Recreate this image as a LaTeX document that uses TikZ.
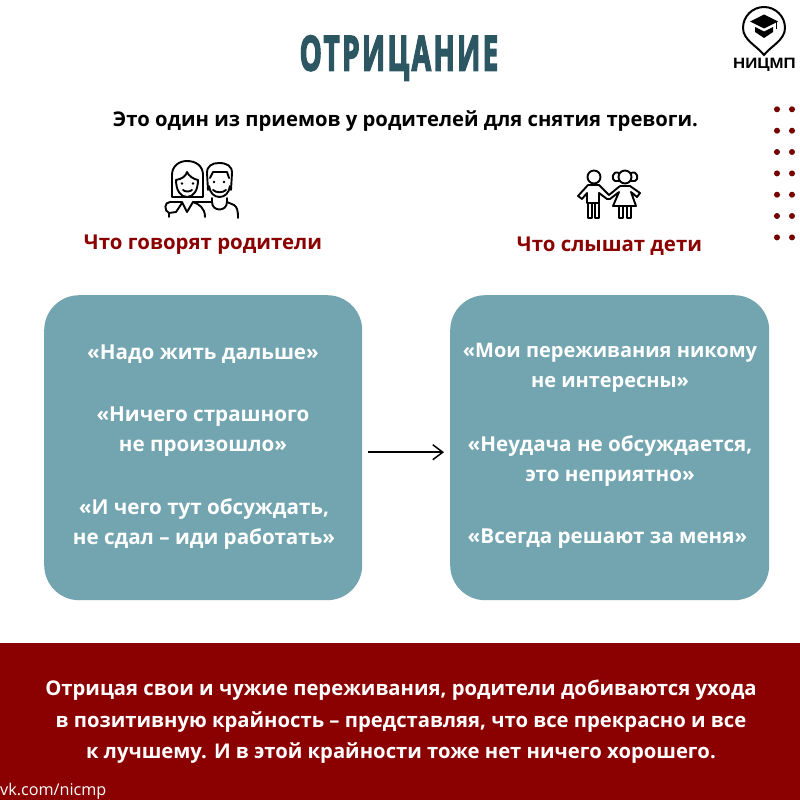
\documentclass[tikz,border=0pt]{standalone}
\usepackage{fontspec}
\setmainfont{Open Sans}
\newfontfamily\logofont{Liberation Sans}
\newfontfamily\titlefont[FakeBold=4,LetterSpace=9]{Open Sans}
\usetikzlibrary{arrows.meta}
\definecolor{teal1}{HTML}{72A5B0}
\definecolor{wine}{HTML}{8B0000}
\definecolor{titlec}{HTML}{2C5662}
\tikzset{
  x=1pt,y=-1pt,
  card/.style={fill=teal1,rounded corners=35pt},
  quote/.style={font=\bfseries\fontsize{20.6}{30}\selectfont,text=white,align=center,anchor=center},
  quotetight/.style={font=\bfseries\fontsize{20}{30}\selectfont,text=white,align=center,anchor=center},
  head/.style={font=\bfseries\fontsize{20.4}{24}\selectfont,text=wine,anchor=center},
  ico/.style={line width=1.9pt,black,line cap=round,line join=round},
  dot/.style={fill=wine!85!black,draw=none,circle,minimum size=6pt,inner sep=0pt}
}
\begin{document}
\begin{tikzpicture}
\useasboundingbox (0,0) rectangle (800,800);
\fill[white] (0,0) rectangle (800,800);
% title
\node[anchor=center,text=titlec] (title) at (399,58) {\fontsize{48}{48}\selectfont\titlefont\bfseries\scalebox{0.58}[1]{ОТРИЦАНИЕ}};
\node[anchor=center,text=black] (sub) at (405.5,121) {\bfseries\fontsize{20.25}{24}\selectfont Это один из приемов у родителей для снятия тревоги.};
% logo
\draw[line width=2pt,black] (764,55) .. controls (757,46) and (743,40) .. (743,28) arc[start angle=180,end angle=360,radius=21] .. controls (785,40) and (771,46) .. (764,55) -- cycle;
\fill[black] (764,14.5) -- (778,21.5) -- (764,28.5) -- (750,21.5) -- cycle;
\fill[black] (755,27) -- (764,31.5) -- (773,27) -- (773,32) -- (764,38) -- (755,32) -- cycle;
\draw[line width=0.8pt,black] (776,22) -- (776,29);
\node[anchor=center,text=black] (logotext) at (764.5,65) {\logofont\bfseries\fontsize{15}{15}\selectfont\scalebox{1.12}[1]{НИЦМП}};
% dots
\foreach \yy in {109.3,130.7,152,173.4,194.7,216,237.4}{
  \node[dot] at (777,\yy) {};
  \node[dot] at (792,\yy) {};
}
% parents icon
\begin{scope}[ico]
 % woman hair
 \draw (172,197) -- (172,175) .. controls (172,166) and (179,161) .. (187,161) .. controls (196,161) and (203,166) .. (203,175) -- (203,197) -- (172,197);
 % woman face
 \draw (176,180) .. controls (182,179) and (186,176) .. (187,172) .. controls (189,176) and (193,179) .. (198,180);
 \draw (176,180) .. controls (176,191) and (181,197) .. (187,197) .. controls (193,197) and (198,191) .. (198,180);
 % man hair and face
 \draw (208,190) -- (207,173) .. controls (207,166) and (212,163) .. (219,163) .. controls (227,163) and (232,166) .. (232,173) -- (231,190);
 \draw (210,178) -- (213,172) -- (227,172) -- (229,178);
 \draw (209,186) .. controls (210,193) and (214,197) .. (219.5,197) .. controls (225,197) and (229,193) .. (230,186);
 % collar and shoulders
 \draw (182,202) -- (187,212) -- (193,202);
 \draw (193,202) -- (212,202);
 \draw (193,202) .. controls (199,204) and (205,208) .. (205,217);
 \draw (182,202) -- (170,202) .. controls (164,202) and (164,211) .. (169,213) -- (176,212) -- (182,203);
 \draw (169,213) -- (169,217);
 \draw (212,198) -- (212,202) .. controls (212,212) and (227,212) .. (227,202) -- (227,198);
 \draw (227,202) -- (234,205) .. controls (237,207) and (238,210) .. (238,218);
 \fill (182,183.5) circle (1.3) (193,183.5) circle (1.3) (214,182) circle (1.3) (224,182) circle (1.3);
 \draw (183,190) .. controls (185,192) and (190,192) .. (192,190);
 \draw (213,190) .. controls (216,193) and (223,193) .. (226,190);
\end{scope}
% children icon
\begin{scope}[ico]
 \draw (594,177) circle (6.5);
 \draw (588,185) -- (599,185) -- (609,195) (588,185) -- (578,196) -- (582,199) -- (587,193) -- (587,203) -- (599,203) -- (599,193) -- (607,199);
 \draw (588,203) -- (588,218) -- (592,218) -- (592,203) (595,203) -- (595,218) -- (599,218) -- (599,203);
 \draw (625,177) circle (6.5);
 \draw (619,173) .. controls (612,170) and (611,180) .. (615,181) -- (619,181);
 \draw (631,173) .. controls (638,170) and (639,180) .. (635,181) -- (631,181);
 \draw (620,186) -- (630,186) -- (640,193) -- (637,197) -- (631,192) -- (636,206) -- (613,206) -- (619,192) -- (610,199) -- (607,199) (620,186) -- (609,195);
 \draw (619,206) -- (619,218) -- (623,218) -- (623,206) (627,206) -- (627,218) -- (631,218) -- (631,206);
\end{scope}
% headings
\node[head] (hl) at (203,244.5) {Что говорят родители};
\node[head] (hr) at (609.5,246.5) {Что слышат дети};
% cards
\node[card,minimum width=318pt,minimum height=305pt,inner sep=0pt,anchor=north west] (left) at (44,295) {};
\node[card,minimum width=319pt,minimum height=305pt,inner sep=0pt,anchor=north west] (right) at (450,295) {};
\node[quote] (l1) at (203,354) {«Надо жить дальше»};
\node[quote] (l2) at (203,432) {«Ничего страшного\\не произошло»};
\node[quote] (l3) at (204,524) {«И чего тут обсуждать,\\не сдал – иди работать»};
\node[quotetight] (r1) at (610,368) {«Мои переживания никому\\не интересны»};
\node[quote] (r2) at (610,461) {«Неудача не обсуждается,\\это неприятно»};
\node[quote] (r3) at (607.5,539) {«Всегда решают за меня»};
% arrow
\draw[-{Straight Barb[length=10pt,width=15pt]},line width=1.5pt,black] ([xshift=6pt,yshift=-4.5pt]left.east) -- ([xshift=-6pt,yshift=-4.5pt]right.west);
% banner
\fill[wine] (0,643) rectangle (800,800);
\node[anchor=center,text=white,align=center,font=\bfseries\fontsize{20.25}{31.5}\selectfont] (foot) at (401,722) {Отрицая свои и чужие переживания, родители добиваются ухода\\в позитивную крайность – представляя, что все прекрасно и все\\к лучшему. И в этой крайности тоже нет ничего хорошего.};
\node[anchor=west,text=white,font=\fontsize{16.2}{18}\selectfont,inner sep=0pt] (vk) at (0,791) {vk.com/nicmp};
\end{tikzpicture}
\end{document}
